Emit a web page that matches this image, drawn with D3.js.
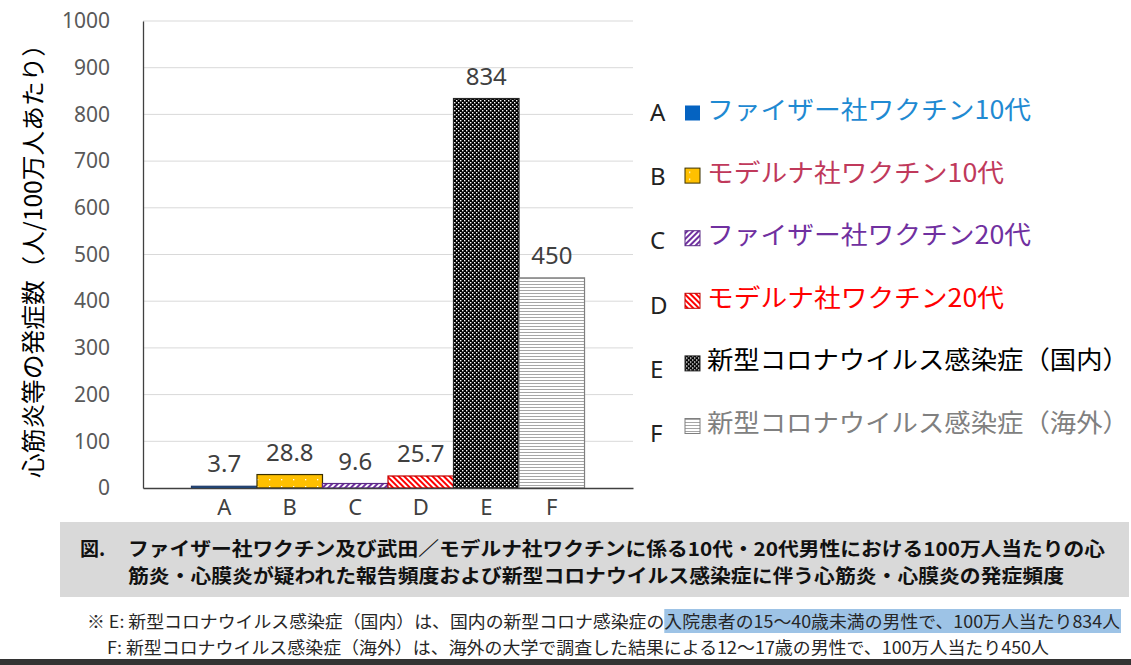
<!DOCTYPE html>
<html>
<head>
<meta charset="utf-8">
<script src="https://cdn.jsdelivr.net/npm/d3@7"></script>
<style>
  body { margin: 0; background: #fff; }
  svg { display: block; font-family: "Noto Sans CJK JP", "Noto Sans", sans-serif; }
</style>
</head>
<body>
<svg id="chart"></svg>
<script>
// data
var categories = ["A", "B", "C", "D", "E", "F"];
var values = [3.7, 28.8, 9.6, 25.7, 834, 450];
var valueLabels = ["3.7", "28.8", "9.6", "25.7", "834", "450"];
var legendNames = [
  "ファイザー社ワクチン10代",
  "モデルナ社ワクチン10代",
  "ファイザー社ワクチン20代",
  "モデルナ社ワクチン20代",
  "新型コロナウイルス感染症（国内）",
  "新型コロナウイルス感染症（海外）"
];
var yTicks = [0, 100, 200, 300, 400, 500, 600, 700, 800, 900, 1000];
var yTitle = "心筋炎等の発症数（人/100万人あたり）";
var captionLines = [
  "ファイザー社ワクチン及び武田／モデルナ社ワクチンに係る10代・20代男性における100万人当たりの心",
  "筋炎・心膜炎が疑われた報告頻度および新型コロナウイルス感染症に伴う心筋炎・心膜炎の発症頻度"
];
var noteLines = [
  "※ E: 新型コロナウイルス感染症（国内）は、国内の新型コロナ感染症の入院患者の15〜40歳未満の男性で、100万人当たり834人",
  "F: 新型コロナウイルス感染症（海外）は、海外の大学で調査した結果による12〜17歳の男性で、100万人当たり450人"
];
var noteHighlightFrom = "入院患者の";

// per-bar look
var barFill = ["#0563c1", "url(#patB)", "url(#patC)", "url(#patD)", "url(#patE)", "url(#patF)"];
var barStroke = ["#203864", "#3a3000", "#5b2a86", "#c00000", "#262626", "#7f7f7f"];
var textColor = ["#1f8ad2", "#c0395b", "#7030a0", "#ff0000", "#000000", "#808080"];
var legendTextEnd = [1031, 1004, 1031, 1004, 1129, 1129];

var W = 1131, H = 665;
var svg = d3.select("#chart").attr("width", W).attr("height", H);

// patterns
var defs = svg.append("defs");

var pB = defs.append("pattern").attr("id", "patB").attr("patternUnits", "userSpaceOnUse")
  .attr("width", 12).attr("height", 7);
pB.append("rect").attr("width", 12).attr("height", 7).attr("fill", "#ffc000");
pB.append("rect").attr("x", 5).attr("y", 3).attr("width", 1.3).attr("height", 1.3).attr("fill", "#fff");

var pC = defs.append("pattern").attr("id", "patC").attr("patternUnits", "userSpaceOnUse")
  .attr("width", 4).attr("height", 4).attr("patternTransform", "rotate(45)");
pC.append("rect").attr("width", 4).attr("height", 4).attr("fill", "#fff");
pC.append("rect").attr("width", 2).attr("height", 4).attr("fill", "#7030a0");

var pD = defs.append("pattern").attr("id", "patD").attr("patternUnits", "userSpaceOnUse")
  .attr("width", 4).attr("height", 4).attr("patternTransform", "rotate(-45)");
pD.append("rect").attr("width", 4).attr("height", 4).attr("fill", "#fff");
pD.append("rect").attr("width", 2).attr("height", 4).attr("fill", "#ff0000");

var pE = defs.append("pattern").attr("id", "patE").attr("patternUnits", "userSpaceOnUse")
  .attr("width", 4).attr("height", 4);
pE.append("rect").attr("width", 4).attr("height", 4).attr("fill", "#000");
pE.append("rect").attr("x", 0).attr("y", 0).attr("width", 1.4).attr("height", 1.4).attr("fill", "#fff");
pE.append("rect").attr("x", 2).attr("y", 2).attr("width", 1.4).attr("height", 1.4).attr("fill", "#fff");

var pF = defs.append("pattern").attr("id", "patF").attr("patternUnits", "userSpaceOnUse")
  .attr("width", 4).attr("height", 3);
pF.append("rect").attr("width", 4).attr("height", 3).attr("fill", "#fff");
pF.append("rect").attr("y", 2).attr("width", 4).attr("height", 1).attr("fill", "#a6a6a6");

// scales
var x = d3.scaleBand().domain(categories).range([143, 633]).paddingInner(0).paddingOuter(0.74);
var y = d3.scaleLinear().domain([0, 1000]).range([488, 21]);

// grid
svg.append("g").selectAll("line").data(yTicks.slice(1)).join("line")
  .attr("x1", 143).attr("x2", 633)
  .attr("y1", d => y(d)).attr("y2", d => y(d))
  .attr("stroke", "#d9d9d9").attr("stroke-width", 1);

// y axis
var yAxis = d3.axisLeft(y).tickValues(yTicks).tickFormat(d3.format("d")).tickSize(0).tickPadding(33);
var yg = svg.append("g").attr("transform", "translate(143,0)").call(yAxis);
yg.select(".domain").attr("stroke", "#404040").attr("stroke-width", 1.3);
yg.selectAll("text").attr("font-size", 21).attr("fill", "#595959")
  .attr("font-family", "'Noto Sans', sans-serif");

// bars
svg.append("g").selectAll("rect").data(categories).join("rect")
  .attr("x", d => x(d))
  .attr("y", (d, i) => y(values[i]))
  .attr("width", x.bandwidth())
  .attr("height", (d, i) => y(0) - y(values[i]))
  .attr("fill", (d, i) => barFill[i])
  .attr("stroke", (d, i) => barStroke[i])
  .attr("stroke-width", 1.2);

// x axis
var xAxis = d3.axisBottom(x).tickSize(0).tickPadding(11);
var xg = svg.append("g").attr("transform", "translate(0,488)").call(xAxis);
xg.select(".domain").attr("stroke", "#404040").attr("stroke-width", 1.3);
xg.selectAll("text").attr("font-size", 22).attr("fill", "#404040")
  .attr("font-family", "'Noto Sans', sans-serif");

// value labels
svg.append("g").selectAll("text").data(categories).join("text")
  .attr("x", d => x(d) + x.bandwidth() / 2)
  .attr("y", (d, i) => y(values[i]) - 14)
  .attr("text-anchor", "middle")
  .attr("font-size", 24)
  .attr("font-family", "'Noto Sans', sans-serif")
  .attr("fill", "#404040")
  .text((d, i) => valueLabels[i]);

// y title
svg.append("text")
  .attr("transform", "translate(42,255) rotate(-90)")
  .attr("text-anchor", "middle")
  .attr("font-size", 24)
  .attr("fill", "#000")
  .attr("textLength", 446).attr("lengthAdjust", "spacingAndGlyphs")
  .text(yTitle);

// legend
var legTop = 113, legStep = 62.6;
var leg = svg.append("g").selectAll("g").data(categories).join("g")
  .attr("transform", (d, i) => `translate(0,${legTop + i * legStep})`);
leg.append("text")
  .attr("x", 650).attr("y", (d, i) => 8 + i * 1.6)
  .attr("font-size", 24)
  .attr("font-family", "'Noto Sans', sans-serif")
  .attr("fill", "#222")
  .text(d => d);
leg.append("rect")
  .attr("x", 685).attr("y", -7.5).attr("width", 15).attr("height", 15)
  .attr("fill", (d, i) => barFill[i])
  .attr("stroke", (d, i) => i == 0 ? "none" : barStroke[i])
  .attr("stroke-width", 1);
leg.append("text")
  .attr("x", 707).attr("y", 6)
  .attr("font-size", 25)
  .attr("fill", (d, i) => textColor[i])
  .attr("textLength", (d, i) => legendTextEnd[i] - 707)
  .attr("lengthAdjust", "spacingAndGlyphs")
  .text((d, i) => legendNames[i]);

// caption box
svg.append("rect").attr("x", 60).attr("y", 522).attr("width", 1069).attr("height", 75)
  .attr("fill", "#d9d9d9");
svg.append("text").attr("x", 80).attr("y", 556)
  .attr("font-size", 19).attr("font-weight", "bold").attr("fill", "#111")
  .text("図.");
var capEnds = [1105, 1064];
captionLines.forEach((t, i) => {
  svg.append("text").attr("x", 128).attr("y", 556 + i * 27)
    .attr("font-size", 19).attr("font-weight", "bold").attr("fill", "#111")
    .attr("textLength", capEnds[i] - 128).attr("lengthAdjust", "spacingAndGlyphs")
    .text(t);
});

// notes
var noteX = [87, 107], noteEnd = [1120, 1049];
var notes = svg.append("g");
var hl = notes.append("rect").attr("fill", "#9dc3e6");
noteLines.forEach((t, i) => {
  var el = notes.append("text").attr("x", noteX[i]).attr("y", 628 + i * 26)
    .attr("font-size", 17).attr("fill", "#262626")
    .text(t);
  var natural = el.node().getComputedTextLength();
  var len = noteEnd[i] - noteX[i];
  if (i == 0) {
    var k = t.indexOf(noteHighlightFrom);
    var pre = el.node().getSubStringLength(0, k);
    var x0 = noteX[i] + pre / natural * len;
    hl.attr("x", x0).attr("y", 609).attr("width", noteEnd[i] + 1 - x0).attr("height", 24);
  }
  el.attr("textLength", len).attr("lengthAdjust", "spacingAndGlyphs");
});

// bottom rule
svg.append("rect").attr("x", 0).attr("y", 659).attr("width", W).attr("height", 6).attr("fill", "#333");
</script>
</body>
</html>
